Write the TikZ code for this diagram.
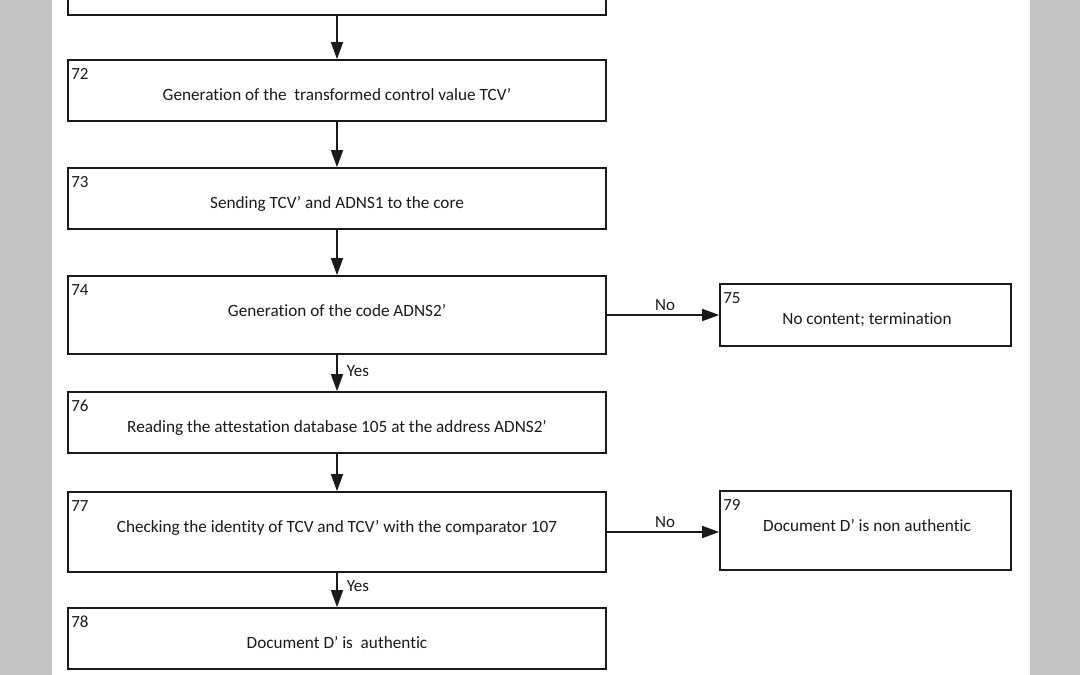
\documentclass[tikz,border=0pt]{standalone}
\usepackage{fontspec}
\setmainfont{Carlito}[Ligatures={NoCommon}]
\usetikzlibrary{arrows.meta}
\definecolor{margingray}{HTML}{C3C3C3}
\definecolor{ink}{HTML}{1A1A1A}
\begin{document}
\begin{tikzpicture}[x=1pt,y=-1pt,
  box/.style={draw=ink, line width=1.7pt, inner sep=0pt, minimum width=538pt},
  sidebox/.style={draw=ink, line width=1.7pt, inner sep=0pt, minimum width=291pt},
  maintext/.style={font=\fontsize{17.2}{20}\selectfont, text=ink, inner sep=0pt, anchor=base},
  numtext/.style={font=\fontsize{17}{20}\selectfont, text=ink, inner sep=0pt, anchor=base west},
  lbl/.style={font=\fontsize{17}{20}\selectfont, text=ink, inner sep=0pt},
  arr/.style={draw=ink, line width=1.7pt, -{Triangle[width=12pt,length=17pt]}}
]
\clip (0,0) rectangle (1080,675);
\fill[margingray] (0,0) rectangle (52,675);
\fill[margingray] (1030,0) rectangle (1080,675);
\fill[white] (52,0) rectangle (1030,675);

% main column boxes
\node[box, minimum height=60pt] (b71) at (337,-15) {};
\node[box, minimum height=61pt] (b72) at (337,90.5) {};
\node[box, minimum height=61pt] (b73) at (337,198.5) {};
\node[box, minimum height=78pt] (b74) at (337,315) {};
\node[box, minimum height=61pt] (b76) at (337,422.5) {};
\node[box, minimum height=80pt] (b77) at (337,532) {};
\node[box, minimum height=61pt] (b78) at (337,638.5) {};
% side boxes
\node[sidebox, minimum height=62pt] (b75) at (865.5,315) {};
\node[sidebox, minimum height=79pt] (b79) at (865.5,530.5) {};

% numbers
\foreach \n in {72,73,74,75,76,77,78,79}{
  \node[numtext] (n\n) at ([xshift=4pt,yshift=-20pt]b\n.north west) {\n};
}

% texts
\node[maintext] (t72) at ([yshift=-41pt]b72.north) {Generation of the\ \ transformed control value TCV’};
\node[maintext] (t73) at ([yshift=-41pt]b73.north) {Sending TCV’ and ADNS1 to the core};
\node[maintext] (t74) at ([yshift=-41pt]b74.north) {Generation of the code ADNS2'};
\node[maintext] (t75) at ([xshift=1.5pt,yshift=-41pt]b75.north) {No content; termination};
\node[maintext] (t76) at ([yshift=-41pt]b76.north) {Reading the attestation database 105 at the address ADNS2'};
\node[maintext] (t77) at ([yshift=-41pt]b77.north) {Checking the identity of TCV and TCV’ with the comparator 107};
\node[maintext] (t78) at ([yshift=-41pt]b78.north) {Document D’ is\ \ authentic};
\node[maintext] (t79) at ([xshift=1.5pt,yshift=-41pt]b79.north) {Document D’ is non authentic};

% arrows
\draw[arr] (b71.south) -- (b72.north);
\draw[arr] (b72.south) -- (b73.north);
\draw[arr] (b73.south) -- (b74.north);
\draw[arr] (b74.south) -- node[lbl, anchor=base west, xshift=9pt, yshift=-3pt] (y1) {Yes} (b76.north);
\draw[arr] (b76.south) -- (b77.north);
\draw[arr] (b77.south) -- node[lbl, anchor=base west, xshift=9pt, yshift=-1pt] (y2) {Yes} (b78.north);
\draw[arr] (b74.east) -- node[lbl, anchor=base, yshift=5pt, xshift=2pt] (no1) {No} (b74.east -| b75.west);
\draw[arr] (b77.east) -- node[lbl, anchor=base, yshift=5pt, xshift=2pt] (no2) {No} (b77.east -| b79.west);
\end{tikzpicture}
\end{document}
